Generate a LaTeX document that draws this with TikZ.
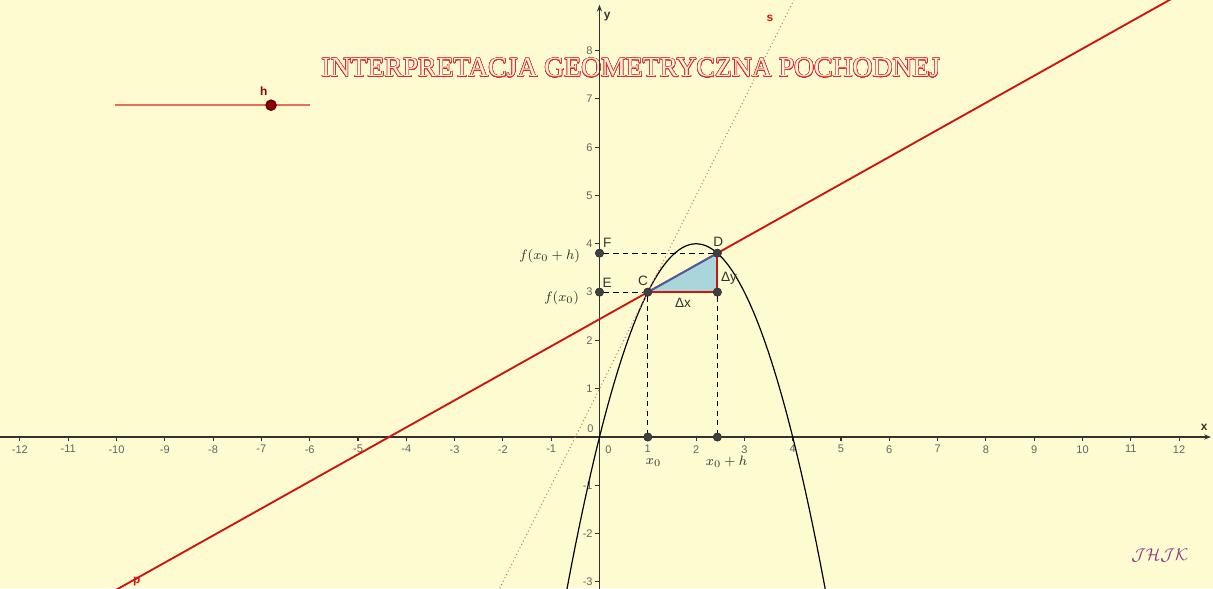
\documentclass[tikz,border=0pt]{standalone}
\usepackage{fontspec}
\setsansfont{Liberation Sans}
\newfontfamily\titlefont{Liberation Serif}
\usepackage{contour}
\usetikzlibrary{arrows.meta}
\contourlength{0.3pt}
\contournumber{32}
\definecolor{bgc}{RGB}{255,251,208}
\definecolor{axisc}{RGB}{50,50,50}
\definecolor{tickc}{RGB}{100,100,100}
\definecolor{redp}{RGB}{204,20,20}
\definecolor{blueh}{RGB}{60,100,170}
\definecolor{trifill}{RGB}{168,214,218}
\definecolor{dotc}{RGB}{195,115,95}
\definecolor{sliderc}{RGB}{230,110,95}
\definecolor{slidept}{RGB}{140,0,0}
\definecolor{ptc}{RGB}{64,64,64}
\definecolor{sigc}{RGB}{135,50,130}
\definecolor{titlered}{RGB}{215,45,45}
\definecolor{titlein}{RGB}{255,240,220}
\begin{document}
\begin{tikzpicture}[x=1cm,y=1cm,
  axisline/.style={draw=axisc,line width=0.85pt},
  tickmark/.style={draw=axisc,line width=0.6pt},
  ticklbl/.style={text=tickc,font=\sffamily\fontsize{6.5}{7}\selectfont,inner sep=1pt},
  ptlbl/.style={text=axisc,font=\sffamily\fontsize{8}{9}\selectfont,inner sep=1pt},
  mathlbl/.style={text=axisc,font=\fontsize{8.5}{10}\selectfont,inner sep=1pt},
  guide/.style={draw=black,dashed,dash pattern=on 3.2pt off 2.4pt,line width=0.65pt},
  curve/.style={draw=black,line width=0.7pt},
  secant/.style={draw=redp,line width=1.1pt},
  tangentline/.style={draw=dotc,line width=0.55pt,dash pattern=on 0.6pt off 1.6pt},
  pt/.style={circle,fill=ptc,draw=black!80,line width=0.3pt,inner sep=0pt,minimum size=4.8pt},
]
\useasboundingbox (-12.412,-3.126) rectangle (12.702,9.048);
\fill[bgc] (-12.412,-3.126) rectangle (12.702,9.048);
\begin{scope}
\clip (-12.412,-3.126) rectangle (12.702,9.048);

% title (under the axis)
\node[inner sep=0pt] (title) at (0.65,7.64) {\titlefont\fontsize{16.3}{19}\selectfont\contour{titlered}{\textcolor{titlein}{INTERPRETACJA GEOMETRYCZNA POCHODNEJ}}};

% axes
\coordinate (xl) at (-12.45,0);
\coordinate (xr) at (12.66,0);
\coordinate (yb) at (0,-3.2);
\coordinate (yt) at (0,8.95);
\draw[axisline,-{Stealth[length=4pt,width=3pt]}] (xl) -- (xr);
\draw[axisline,-{Stealth[length=4pt,width=3pt]}] (yb) -- (yt);
\foreach \i in {-12,...,-1,1,2,...,12}{
  \draw[tickmark] (\i,0) -- (\i,-0.09);
  \node[ticklbl,anchor=north] at (\i,-0.13) {\i};
}
\foreach \j in {-3,-2,-1,1,2,...,8}{
  \draw[tickmark] (-0.09,\j) -- (0,\j);
  \node[ticklbl,anchor=east] at (-0.1,\j) {\j};
}
\node[ticklbl,anchor=north west] (zx) at (0.08,-0.13) {0};
\node[ticklbl,anchor=south east] (zy) at (-0.08,0.05) {0};
\node[ptlbl,font=\sffamily\bfseries\fontsize{7}{8}\selectfont] (ylab) at (0.16,8.7) {y};
\node[ptlbl,font=\sffamily\bfseries\fontsize{7}{8}\selectfont] (xlab) at (12.52,0.19) {x};

% triangle
\fill[trifill] (1,3) -- (2.44,3) -- (2.44,3.8064) -- cycle;

% points and guide lines
\node[pt] (C) at (1,3) {};
\node[pt] (D) at (2.44,3.8064) {};
\node[pt] (E) at (0,3) {};
\node[pt] (F) at (0,3.8064) {};
\node[pt] (X0) at (1,0) {};
\node[pt] (X1) at (2.44,0) {};
\node[pt] (G0) at (2.44,3) {};
\draw[guide] (E) -- (C);
\draw[guide] (F) -- (D);
\draw[guide] (C) -- (X0);
\draw[guide] (G0) -- (X1);

% parabola
\draw[curve] plot[domain=-0.72:4.72,samples=120] (\x,{-\x*\x+4*\x});

% tangent s (dotted)
\coordinate (s1) at (-2.1,-3.2);
\coordinate (s2) at (4.05,9.1);
\draw[tangentline] (s1) -- (s2);

% secant p
\coordinate (p1) at (-10.5,-3.44);
\coordinate (p2) at (12.5,9.44);
\draw[secant] (p1) -- (p2);

% triangle edges
\draw[draw=blueh,line width=1pt] (C) -- (D);
\draw[secant] (C) -- (G0);
\draw[secant] (G0) -- (D);

% points on top
\node[pt] at (C) {};
\node[pt] at (D) {};
\node[pt] at (E) {};
\node[pt] at (F) {};
\node[pt] at (X0) {};
\node[pt] at (X1) {};
\node[pt] at (G0) {};

% labels
\node[ptlbl] (lC) at (0.9,3.23) {C};
\node[ptlbl] (lD) at (2.46,4.04) {D};
\node[ptlbl] (lE) at (0.16,3.19) {E};
\node[ptlbl] (lF) at (0.16,4.02) {F};
\node[ptlbl] (ldx) at (1.73,2.78) {Δx};
\node[ptlbl] (ldy) at (2.68,3.29) {Δy};
\node[mathlbl,anchor=east] (lfxh) at (-0.36,3.74) {$f(x_0+h)$};
\node[mathlbl,anchor=east] (lfx) at (-0.38,2.88) {$f(x_0)$};
\node[mathlbl] (lx0) at (1.12,-0.52) {$x_0$};
\node[mathlbl] (lx1) at (2.63,-0.52) {$x_0+h$};
\node[ptlbl,text=redp,font=\sffamily\bfseries\fontsize{7}{8}\selectfont] (ls) at (3.53,8.67) {s};
\node[ptlbl,text=redp,font=\sffamily\bfseries\fontsize{7}{8}\selectfont] (lp) at (-9.58,-3.0) {p};

% slider
\coordinate (sl1) at (-10.03,6.87);
\coordinate (sl2) at (-5.99,6.87);
\draw[draw=sliderc,line width=1.1pt] (sl1) -- (sl2);
\node[circle,fill=slidept,draw=red!40!black,line width=0.8pt,inner sep=0pt,minimum size=6pt] (hp) at (-6.8,6.87) {};
\node[ptlbl,text=slidept,font=\sffamily\bfseries\fontsize{7}{8}\selectfont] (lh) at (-6.95,7.17) {h};

% signature
\node[text=sigc] (sig) at (11.6,-2.46) {$\mathcal{JHJK}$};
\end{scope}
\end{tikzpicture}
\end{document}
